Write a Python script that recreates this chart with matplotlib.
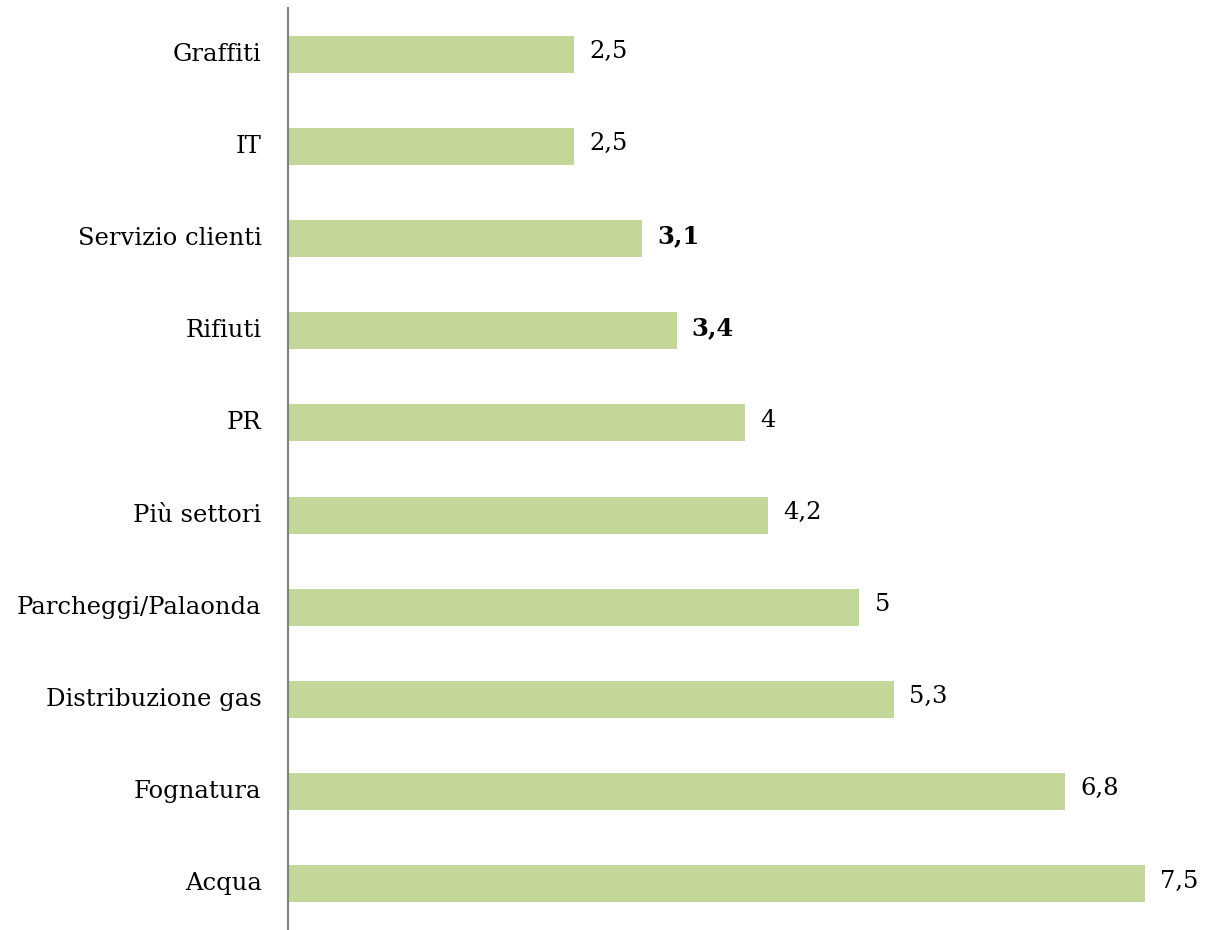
import matplotlib.pyplot as plt

categories = ['Graffiti', 'IT', 'Servizio clienti', 'Rifiuti', 'PR', 'Più settori',
              'Parcheggi/Palaonda', 'Distribuzione gas', 'Fognatura', 'Acqua']
values = [2.5, 2.5, 3.1, 3.4, 4.0, 4.2, 5.0, 5.3, 6.8, 7.5]
labels = ['2,5', '2,5', '3,1', '3,4', '4', '4,2', '5', '5,3', '6,8', '7,5']
bold = [False, False, True, True, False, False, False, False, False, False]

plt.rcParams['font.family'] = 'DejaVu Serif'

fig = plt.figure(figsize=(12.05, 9.3), dpi=100)
ax = fig.add_axes([288 / 1205, 0, 1 - 288 / 1205, 922 / 930])

ypos = list(range(len(categories)))
ax.barh(ypos, values, height=0.4, color='#C4D79B')
ax.set_ylim(len(categories) - 0.5, -0.5)
ax.set_xlim(0, 8.025)

for y, v, lab, b in zip(ypos, values, labels, bold):
    ax.annotate(lab, (v, y), xytext=(11, 2), textcoords='offset points',
                va='center', ha='left', fontsize=17.5,
                fontweight='bold' if b else 'normal', color='black')

ax.set_yticks(ypos)
ax.set_yticklabels(categories, fontsize=17.5, va='center')
ax.tick_params(axis='y', length=0, pad=19)
ax.set_xticks([])
for s in ['top', 'right', 'bottom']:
    ax.spines[s].set_visible(False)
ax.spines['left'].set_color('#808080')
ax.spines['left'].set_linewidth(1.5)

fig.savefig('out.png', dpi=100)
